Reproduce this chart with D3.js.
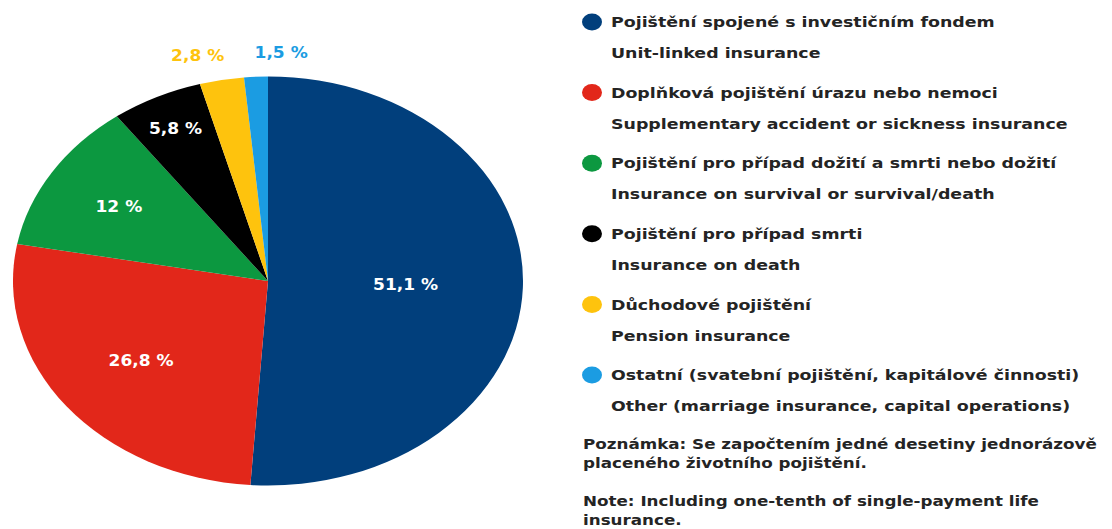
<!DOCTYPE html>
<html>
<head>
<meta charset="utf-8">
<script src="https://cdn.jsdelivr.net/npm/d3@7"></script>
<style>
  html, body { margin: 0; padding: 0; background: #fff; }
  svg { display: block; }
  text { font-family: "DejaVu Sans", sans-serif; }
</style>
</head>
<body>
<svg id="chart" width="1112" height="529"></svg>
<script>
// Structure of life-insurance premiums by product type (%)
const categoriesCz = [
  "Pojištění spojené s investičním fondem",
  "Doplňková pojištění úrazu nebo nemoci",
  "Pojištění pro případ dožití a smrti nebo dožití",
  "Pojištění pro případ smrti",
  "Důchodové pojištění",
  "Ostatní (svatební pojištění, kapitálové činnosti)"
];
const categoriesEn = [
  "Unit-linked insurance",
  "Supplementary accident or sickness insurance",
  "Insurance on survival or survival/death",
  "Insurance on death",
  "Pension insurance",
  "Other (marriage insurance, capital operations)"
];
const shares = [51.1, 26.8, 12, 5.8, 2.8, 1.5];
const colors = ["#013f7c", "#e2271a", "#0c9840", "#000000", "#fec30d", "#1b9ce2"];
const noteCz = ["Poznámka: Se započtením jedné desetiny jednorázově", "placeného životního pojištění."];
const noteEn = ["Note: Including one-tenth of single-payment life", "insurance."];

const svg = d3.select("#chart");
const fmt = v => String(v).replace(".", ",") + " %";

// Pie: drawn as a circle and stretched horizontally into an ellipse
const cx = 268, cy = 281, r = 204.5, sx = 1.247;
const pie = d3.pie().sort(null).value(d => d)(shares);
const arc = d3.arc().innerRadius(0).outerRadius(r);

svg.append("g")
  .attr("transform", `translate(${cx},${cy}) scale(${sx},1)`)
  .selectAll("path")
  .data(pie)
  .join("path")
  .attr("d", arc)
  .attr("fill", (d, i) => colors[i]);

// Value labels: inside for large slices, above the pie for the thin ones
const labelRadius = [0.54, 0.63, 0.69, 0.83, 1.12, 1.12];
const anchors = ["middle", "middle", "middle", "middle", "end", "start"];
pie.forEach((d, i) => {
  const a = (d.startAngle + d.endAngle) / 2;
  const rr = r * labelRadius[i];
  const outside = labelRadius[i] > 1;
  const x = cx + Math.sin(a) * rr * sx + (i === 4 ? 8 : 0);
  const y = cy - Math.cos(a) * rr;
  svg.append("text")
    .attr("transform", `translate(${x},${y}) scale(1.1,1)`)
    .attr("dy", "0.36em")
    .attr("text-anchor", anchors[i])
    .attr("font-size", 15.5)
    .attr("font-weight", "bold")
    .attr("fill", outside ? colors[i] : "#ffffff")
    .text(fmt(shares[i]));
});

// Wide text helper
function wideText(parent, x, y, t, scale) {
  return parent.append("text")
    .attr("transform", `translate(${x},${y}) scale(${scale},1)`)
    .attr("dy", "0.36em")
    .attr("font-size", 14.5)
    .attr("font-weight", "bold")
    .attr("fill", "#242424")
    .text(t);
}

// Legend
const legend = svg.append("g");
const rowY = d3.scalePoint().domain(d3.range(categoriesCz.length)).range([22, 375]);
categoriesCz.forEach((c, i) => {
  const y = rowY(i);
  legend.append("ellipse")
    .attr("cx", 592).attr("cy", y)
    .attr("rx", 10).attr("ry", 8.5)
    .attr("fill", colors[i]);
  wideText(legend, 611, y, c, 1.2);
  wideText(legend, 611, y + 31, categoriesEn[i], 1.2);
});

// Footnotes
[[noteCz, 444], [noteEn, 501]].forEach(([lines, y0]) => {
  lines.forEach((t, j) => wideText(svg, 583, y0 + j * 18.5, t, 1.155));
});
</script>
</body>
</html>
